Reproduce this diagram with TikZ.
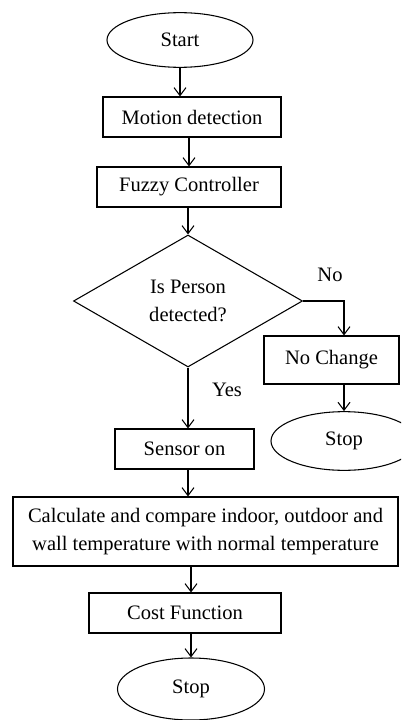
\documentclass[tikz,border=0pt]{standalone}
\usepackage{fontspec}
\setmainfont{Liberation Serif}
\usetikzlibrary{shapes.geometric,arrows.meta}
\tikzset{
  box/.style={draw,line width=0.8pt,inner sep=0pt,align=center},
  term/.style={draw,ellipse,line width=0.8pt,inner sep=0pt},
  arr/.style={line width=0.8pt,-{Straight Barb[length=6pt,width=9pt]}}
}
\begin{document}
\begin{tikzpicture}[x=0.75pt,y=-0.75pt,font=\fontsize{15.4}{21}\selectfont]
\clip (0,0) rectangle (401,720);
\node[term,minimum width=109.5pt,minimum height=41pt] (start) at (180,40) {Start};
\node[box,minimum width=133.5pt,minimum height=30pt] (motion) at (192,117) {Motion detection};
\node[box,minimum width=138pt,minimum height=30pt] (fuzzy) at (189,187) {Fuzzy Controller};
\node[box,diamond,minimum width=171.75pt,minimum height=99pt] (person) at (188,301) {Is Person\\detected?};
\node[box,minimum width=101.25pt,minimum height=36pt] (nochange) at (331.5,360) {No Change};
\node[term,minimum width=109.5pt,minimum height=44pt] (stopb) at (344,441) {Stop};
\node[box,minimum width=104.25pt,minimum height=30pt] (sensor) at (184.5,449) {Sensor on};
\node[box,minimum width=288.75pt,minimum height=51.75pt] (calc) at (205.5,531.5) {Calculate and compare indoor, outdoor and\\wall temperature with normal temperature};
\node[box,minimum width=144pt,minimum height=30pt] (cost) at (185,613) {Cost Function};
\node[term,minimum width=110.25pt,minimum height=46.5pt] (stop) at (191,689) {Stop};
\node (no) at (330,275) {No};
\node (yes) at (227,390) {Yes};
\draw[arr] (start.south) -- (start.south |- motion.north);
\draw[arr] (fuzzy.north |- motion.south) -- (fuzzy.north);
\draw[arr] (person.north |- fuzzy.south) -- (person.north);
\draw[arr] (person.south) -- (person.south |- sensor.north);
\draw[arr] (person.south |- sensor.south) -- (person.south |- calc.north);
\draw[arr] (stop.north |- calc.south) -- (stop.north |- cost.north);
\draw[arr] (stop.north |- cost.south) -- (stop.north);
\draw[arr] (person.east) -| (stopb.north |- nochange.north);
\draw[arr] (stopb.north |- nochange.south) -- (stopb.north);
\end{tikzpicture}
\end{document}
